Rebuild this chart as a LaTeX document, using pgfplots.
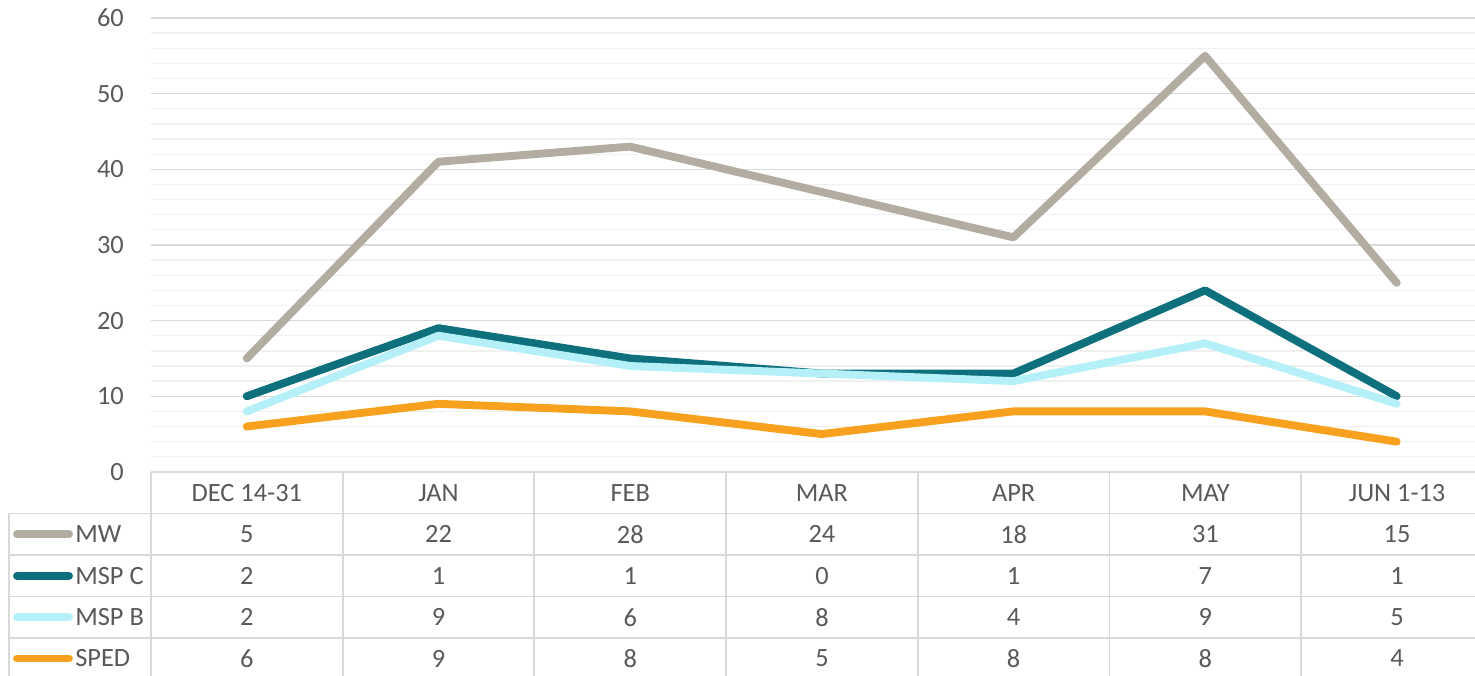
\documentclass[border=0pt]{standalone}
\usepackage{pgfplots}
\usepackage{pgfplotstable}
\pgfplotsset{compat=1.18}
\usepackage{fontspec}
\setmainfont{Carlito}
\definecolor{txt}{HTML}{595959}
\definecolor{gridmaj}{HTML}{D9D9D9}
\definecolor{gridmin}{HTML}{F0F0F0}
\definecolor{cMW}{HTML}{B3ADA1}
\definecolor{cMSPC}{HTML}{0E707C}
\definecolor{cMSPB}{HTML}{B5EFF7}
\definecolor{cSPED}{HTML}{F7A11E}
\pgfplotstableread{
x MW MSPC MSPB SPED
0 5 2 2 6
1 22 1 9 9
2 28 1 6 8
3 24 0 8 5
4 18 1 4 8
5 31 7 9 8
6 15 1 5 4
}\data
\begin{document}
\fontsize{15pt}{18pt}\selectfont
\begin{tikzpicture}
\begin{axis}[
  at={(0,0)}, anchor=south west,
  scale only axis, width=26.48cm, height=9.08cm,
  xmin=-0.5, xmax=6.407, ymin=0, ymax=60,
  ytick={0,10,...,60}, minor y tick num=4,
  xtick=\empty,
  ymajorgrids, yminorgrids,
  major grid style={color=gridmaj, line width=0.85pt},
  minor grid style={color=gridmin, line width=0.75pt},
  axis line style={draw=none},
  major tick length=0pt, minor tick length=0pt,
  tick label style={font=\fontsize{15pt}{18pt}\selectfont, color=txt},
  yticklabel style={xshift=-0.36cm},
  /pgf/number format/assume math mode=true,
  stack plots=y,
  every axis plot/.append style={line width=4.5pt, line join=round, line cap=round, mark=none},
]
\addplot[cSPED] table[x=x, y=SPED]{\data};
\addplot[cMSPB] table[x=x, y=MSPB]{\data};
\addplot[cMSPC] table[x=x, y=MSPC]{\data};
\addplot[cMW] table[x=x, y=MW]{\data};
\end{axis}
\begin{scope}[shift={(-3.02cm,9.44cm)}, x=0.02cm, y=-0.02cm]
  % table lines
  \draw[gridmaj, line width=1.1pt] (151,472) -- (1475,472);
  \foreach \yy in {513.5,555,596.5,638} \draw[gridmaj, line width=1.1pt] (9,\yy) -- (1475,\yy);
  \draw[gridmaj, line width=1.1pt] (9,513.5) -- (9,680);
  \foreach \k in {0,...,6} \draw[gridmaj, line width=1.1pt] ({151+191.7*\k},472) -- ({151+191.7*\k},680);
  % header
  \foreach \lab [count=\i from 0] in {DEC 14-31,JAN,FEB,MAR,APR,MAY,JUN 1-13}
    \node[txt, inner sep=0pt, anchor=center] at ({151+191.7*(\i+0.5)},492.75) {\lab};
  % rows
  \newcommand\tabrow[7]{}
  \foreach \v [count=\i from 0] in {5,22,28,24,18,31,15}
    \node[txt, inner sep=0pt] at ({151+191.7*(\i+0.5)},534.25) {\v};
  \foreach \v [count=\i from 0] in {2,1,1,0,1,7,1}
    \node[txt, inner sep=0pt] at ({151+191.7*(\i+0.5)},575.75) {\v};
  \foreach \v [count=\i from 0] in {2,9,6,8,4,9,5}
    \node[txt, inner sep=0pt] at ({151+191.7*(\i+0.5)},617.25) {\v};
  \foreach \v [count=\i from 0] in {6,9,8,5,8,8,4}
    \node[txt, inner sep=0pt] at ({151+191.7*(\i+0.5)},658.5) {\v};
  % legend keys
  \foreach \c/\lab/\yy in {cMW/MW/534.25, cMSPC/MSP C/575.75, cMSPB/MSP B/617.25, cSPED/SPED/658.5} {
    \draw[\c, line width=4.5pt, line cap=round] (17,\yy) -- (69,\yy);
    \node[txt, inner sep=0pt, anchor=west] at (75,\yy) {\lab};
  }
  \pgfresetboundingbox
  \path[use as bounding box] (0,0) rectangle (1475,676);
\end{scope}
\end{tikzpicture}
\end{document}
